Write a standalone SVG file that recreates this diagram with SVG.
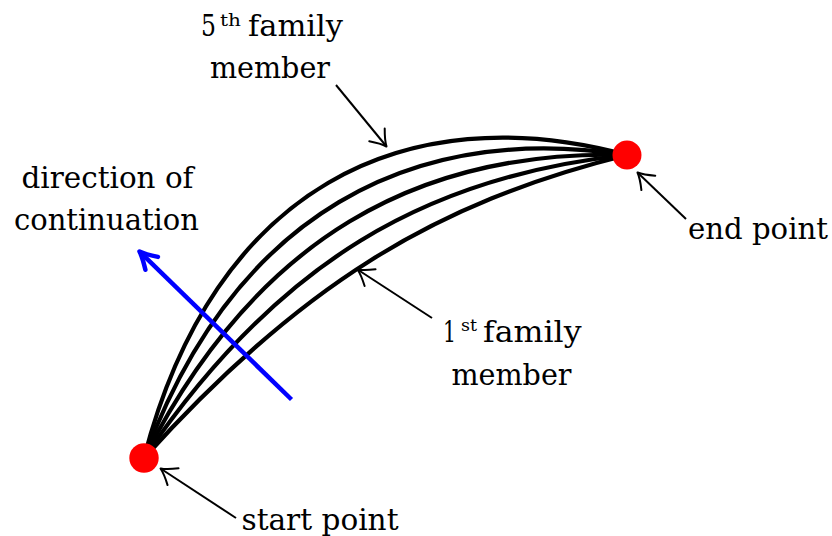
<svg xmlns="http://www.w3.org/2000/svg" width="832" height="536" viewBox="0 0 832 536">
<style>
  text { font-family: "DejaVu Serif", serif; font-size: 30px; fill: #000; }
  .sup { font-size: 17px; }
  .curve { fill: none; stroke: #000; stroke-width: 4.2; }
  .ann { fill: none; stroke: #000; stroke-width: 2; }
  .dir { fill: none; stroke: #0000ff; stroke-width: 4.5; }
  .dot { fill: #ff0000; }
</style>
<defs>
  <marker id="headK" markerUnits="userSpaceOnUse" markerWidth="40" markerHeight="40" refX="0" refY="0" viewBox="-20 -20 40 40" orient="auto" overflow="visible">
    <path d="M-15,-10 Q-6,-2.5 0,0 Q-6,2.5 -15,10" fill="none" stroke="#000" stroke-width="2" stroke-linecap="round" stroke-linejoin="round"/>
  </marker>
  <marker id="headB" markerUnits="userSpaceOnUse" markerWidth="50" markerHeight="50" refX="0" refY="0" viewBox="-25 -25 50 50" orient="auto" overflow="visible">
    <path d="M-17,-9 Q-6,-2 0,0 Q-6,2 -17,9" fill="none" stroke="#0000ff" stroke-width="4.5" stroke-linecap="round" stroke-linejoin="round"/>
  </marker>
</defs>

<g id="family">
  <path class="curve" d="M144,458 C214,187.5 404.8,95.4 627,155"/>
  <path class="curve" d="M144,458 C235,212.4 411.85,122.3 627,155"/>
  <path class="curve" d="M144,458 C256,237.3 418.9,149.2 627,155"/>
  <path class="curve" d="M144,458 C277,262.2 425.95,176.1 627,155"/>
  <path class="curve" d="M144,458 C297.9,287.1 433,203 627,155"/>
</g>

<g id="connectors">
  <path class="dir" d="M291.5,399.5 L139.5,251.5" marker-end="url(#headB)"/>
  <path class="ann" d="M336,85 L386.5,146.5" marker-end="url(#headK)"/>
  <path class="ann" d="M686,219 L637.5,172.5" marker-end="url(#headK)"/>
  <path class="ann" d="M236,518 L160.5,468.5" marker-end="url(#headK)"/>
  <path class="ann" d="M432,318 L357.5,269.5" marker-end="url(#headK)"/>
</g>

<g id="start-point">
  <circle class="dot" cx="144" cy="458" r="14.7"/>
</g>
<g id="end-point">
  <circle class="dot" cx="627" cy="155" r="14.5"/>
</g>

<g id="label-5th">
  <text x="201" y="36" textLength="15" lengthAdjust="spacingAndGlyphs">5</text>
  <text class="sup" x="220" y="26" textLength="21" lengthAdjust="spacingAndGlyphs">th</text>
  <text x="248" y="36" textLength="95" lengthAdjust="spacingAndGlyphs">family</text>
  <text x="210" y="78" textLength="120" lengthAdjust="spacingAndGlyphs">member</text>
</g>
<g id="label-direction">
  <text x="21.5" y="187.5" textLength="172" lengthAdjust="spacingAndGlyphs">direction of</text>
  <text x="14" y="230" textLength="185" lengthAdjust="spacingAndGlyphs">continuation</text>
</g>
<g id="label-end">
  <text x="688" y="238.5" textLength="140" lengthAdjust="spacingAndGlyphs">end point</text>
</g>
<g id="label-start">
  <text x="241.5" y="530" textLength="157" lengthAdjust="spacingAndGlyphs">start point</text>
</g>
<g id="label-1st">
  <text x="443" y="341.5" textLength="13" lengthAdjust="spacingAndGlyphs">1</text>
  <text class="sup" x="461" y="331" textLength="16" lengthAdjust="spacingAndGlyphs">st</text>
  <text x="483" y="341.5" textLength="98.5" lengthAdjust="spacingAndGlyphs">family</text>
  <text x="451.5" y="385" textLength="120" lengthAdjust="spacingAndGlyphs">member</text>
</g>
</svg>
